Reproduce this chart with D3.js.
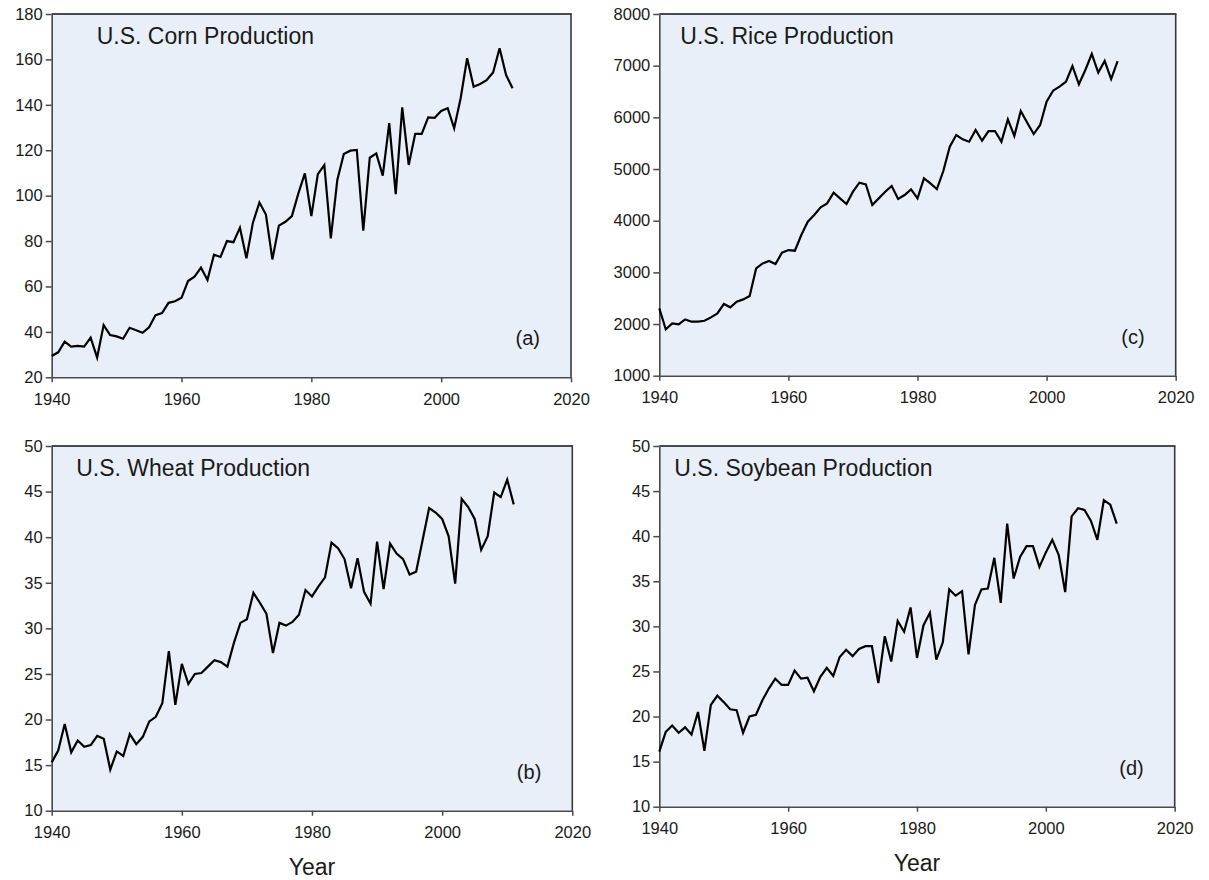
<!DOCTYPE html>
<html>
<head>
<meta charset="utf-8">
<script src="https://cdn.jsdelivr.net/npm/d3@7"></script>
<style>
  html, body { margin: 0; padding: 0; background: #ffffff; }
  svg { display: block; }
  .tick text { font-family: "Liberation Sans", Arial, sans-serif; fill: #1a1a1a; }
</style>
</head>
<body>
<svg id="chart" width="1209" height="880"></svg>
<script>
// ---------- data ----------
const years = d3.range(1940, 2012);

const cornValues = [
  29.4, 31.0, 35.7, 33.5, 33.8, 33.5, 37.5, 28.7, 43.0, 38.6,
  38.0, 37.0, 41.8, 40.7, 39.6, 42.0, 47.4, 48.3, 52.8, 53.5,
  55.0, 62.4, 64.3, 68.3, 62.9, 74.0, 73.0, 80.0, 79.5, 85.9,
  72.4, 88.1, 97.0, 91.7, 71.9, 86.8, 88.5, 91.0, 101.0, 109.8,
  91.0, 109.5, 113.5, 81.2, 106.9, 118.3, 119.8, 120.1, 84.6, 116.7,
  118.6, 108.8, 131.9, 100.7, 138.9, 113.5, 127.2, 127.2, 134.5, 134.3,
  137.3, 138.5, 129.7, 142.9, 160.5, 148.0, 149.2, 150.9, 154.2, 164.9,
  153.1, 147.3
];

const riceValues = [
  2303, 1897, 2013, 1994, 2090, 2045, 2045, 2064, 2129, 2206,
  2387, 2323, 2432, 2477, 2542, 3077, 3174, 3219, 3161, 3381,
  3432, 3419, 3723, 3981, 4110, 4258, 4335, 4542, 4432, 4323,
  4561, 4735, 4703, 4303, 4432, 4561, 4671, 4420, 4497, 4606,
  4432, 4819, 4723, 4613, 4961, 5432, 5658, 5574, 5529, 5755,
  5548, 5735, 5735, 5529, 5961, 5639, 6123, 5897, 5677, 5852,
  6303, 6516, 6594, 6690, 6994, 6639, 6916, 7226, 6865, 7090,
  6742, 7090
];

const wheatValues = [
  15.3, 16.6, 19.5, 16.4, 17.7, 17.0, 17.2, 18.2, 17.9, 14.5,
  16.5, 16.0, 18.4, 17.3, 18.1, 19.8, 20.3, 21.8, 27.5, 21.6,
  26.1, 23.9, 25.0, 25.1, 25.8, 26.5, 26.3, 25.8, 28.4, 30.6,
  31.0, 33.9, 32.8, 31.6, 27.3, 30.6, 30.3, 30.7, 31.5, 34.2,
  33.5, 34.6, 35.6, 39.4, 38.8, 37.6, 34.4, 37.7, 34.0, 32.7,
  39.5, 34.3, 39.3, 38.2, 37.6, 35.9, 36.2, 39.7, 43.2, 42.7,
  42.0, 40.1, 34.9, 44.2, 43.3, 42.0, 38.6, 40.1, 44.9, 44.4,
  46.3, 43.6
];

const soybeanValues = [
  16.1, 18.3, 19.0, 18.2, 18.8, 18.0, 20.5, 16.2, 21.3, 22.3,
  21.6, 20.8, 20.7, 18.2, 20.0, 20.2, 21.8, 23.1, 24.2, 23.5,
  23.5, 25.1, 24.2, 24.3, 22.8, 24.4, 25.4, 24.5, 26.6, 27.4,
  26.7, 27.5, 27.8, 27.8, 23.7, 28.9, 26.1, 30.6, 29.4, 32.1,
  26.5, 30.1, 31.5, 26.3, 28.2, 34.1, 33.4, 33.9, 26.9, 32.4,
  34.1, 34.2, 37.6, 32.6, 41.4, 35.3, 37.7, 38.9, 38.9, 36.6,
  38.2, 39.6, 37.9, 33.8, 42.2, 43.1, 42.9, 41.7, 39.6, 44.0,
  43.5, 41.4
];

const xTicks = [1940, 1960, 1980, 2000, 2020];
const cornTicks = [20, 40, 60, 80, 100, 120, 140, 160, 180];
const riceTicks = [1000, 2000, 3000, 4000, 5000, 6000, 7000, 8000];
const wheatTicks = [10, 15, 20, 25, 30, 35, 40, 45, 50];
const soybeanTicks = [10, 15, 20, 25, 30, 35, 40, 45, 50];

const titles = ["U.S. Corn Production", "U.S. Rice Production", "U.S. Wheat Production", "U.S. Soybean Production"];
const panelTags = ["(a)", "(c)", "(b)", "(d)"];
const xAxisTitle = "Year";

// ---------- layout (positions only) ----------
const panels = [
  { values: cornValues,    ticks: cornTicks,    title: titles[0], tag: panelTags[0], left: 51.7,  right: 571,    top: 14,  bottom: 377.3, titleDx: 45,  yearLabel: false },
  { values: riceValues,    ticks: riceTicks,    title: titles[1], tag: panelTags[1], left: 659.3, right: 1175.7, top: 14,  bottom: 375.7, titleDx: 21,  yearLabel: false },
  { values: wheatValues,   ticks: wheatTicks,   title: titles[2], tag: panelTags[2], left: 51.7,  right: 572.3,  top: 446, bottom: 810.7, titleDx: 24.5, yearLabel: true },
  { values: soybeanValues, ticks: soybeanTicks, title: titles[3], tag: panelTags[3], left: 659.3, right: 1174.7, top: 446, bottom: 806.7, titleDx: 15,  yearLabel: true }
];

const svg = d3.select("#chart");
const FONT = '"Liberation Sans", Arial, sans-serif';
const axisColor = "#4a4a4a";

panels.forEach(p => {
  const x = d3.scaleLinear().domain([xTicks[0], xTicks[xTicks.length - 1]]).range([p.left, p.right]);
  const y = d3.scaleLinear().domain([p.ticks[0], p.ticks[p.ticks.length - 1]]).range([p.bottom, p.top]);
  const g = svg.append("g");

  // background
  g.append("rect")
    .attr("x", p.left).attr("y", p.top)
    .attr("width", p.right - p.left).attr("height", p.bottom - p.top)
    .attr("fill", "#e8eff8");

  // top border
  g.append("line")
    .attr("x1", p.left).attr("x2", p.right + 0.75)
    .attr("y1", p.top).attr("y2", p.top)
    .attr("stroke", "#111").attr("stroke-width", 1.6);
  // right border
  g.append("line")
    .attr("x1", p.right).attr("x2", p.right)
    .attr("y1", p.top).attr("y2", p.bottom)
    .attr("stroke", "#3a3a3a").attr("stroke-width", 1.6);

  // axes
  const xAxis = g.append("g")
    .attr("transform", `translate(0,${p.bottom})`)
    .call(d3.axisBottom(x).tickValues(xTicks).tickFormat(d3.format("d")).tickSize(5).tickPadding(11).tickSizeOuter(0));
  const yAxis = g.append("g")
    .attr("transform", `translate(${p.left},0)`)
    .call(d3.axisLeft(y).tickValues(p.ticks).tickFormat(d3.format("d")).tickSize(6).tickPadding(3).tickSizeOuter(0));

  [xAxis, yAxis].forEach(ax => {
    ax.select(".domain").attr("stroke", axisColor).attr("stroke-width", 1.6);
    ax.selectAll(".tick line").attr("stroke", axisColor).attr("stroke-width", 1.5);
    ax.selectAll(".tick text").attr("font-size", 16.5).attr("font-family", FONT).attr("fill", "#1a1a1a");
  });

  // line
  const line = d3.line()
    .x((d, i) => x(years[i]))
    .y(d => y(d));
  g.append("path")
    .datum(p.values)
    .attr("d", line)
    .attr("fill", "none")
    .attr("stroke", "#000")
    .attr("stroke-width", 2.2)
    .attr("stroke-linejoin", "miter");

  // title
  g.append("text")
    .attr("x", p.left + p.titleDx)
    .attr("y", p.top + 30)
    .attr("font-family", FONT)
    .attr("font-size", 23)
    .attr("fill", "#1a1a1a")
    .text(p.title);

  // panel tag
  g.append("text")
    .attr("x", p.right - 31)
    .attr("y", y(p.ticks[0]) - 32)
    .attr("text-anchor", "end")
    .attr("font-family", FONT)
    .attr("font-size", 20)
    .attr("fill", "#1a1a1a")
    .text(p.tag);

  if (p.yearLabel) {
    g.append("text")
      .attr("x", (p.left + p.right) / 2)
      .attr("y", p.bottom + 64)
      .attr("text-anchor", "middle")
      .attr("font-family", FONT)
      .attr("font-size", 23)
      .attr("fill", "#1a1a1a")
      .text(xAxisTitle);
  }
});
</script>
</body>
</html>
